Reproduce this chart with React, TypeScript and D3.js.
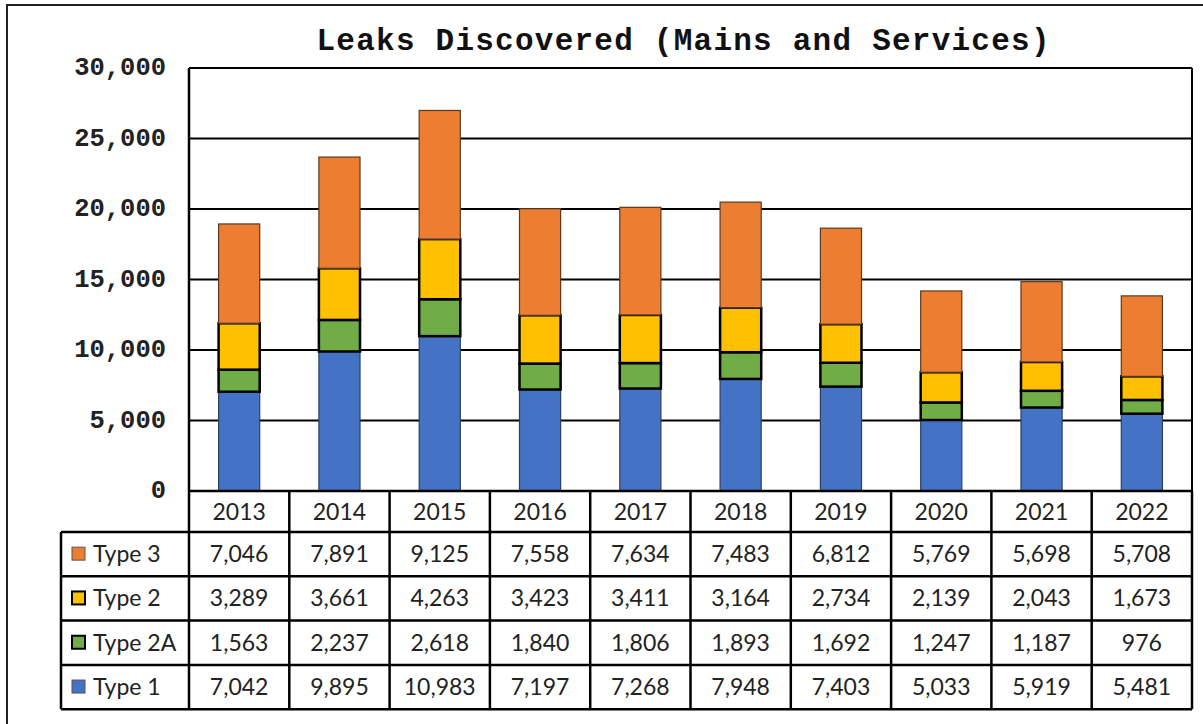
import React, { useRef, useEffect } from "react";
import * as d3 from "d3";

const years = ["2013", "2014", "2015", "2016", "2017", "2018", "2019", "2020", "2021", "2022"];
const type1 = [7042, 9895, 10983, 7197, 7268, 7948, 7403, 5033, 5919, 5481];
const type2A = [1563, 2237, 2618, 1840, 1806, 1893, 1692, 1247, 1187, 976];
const type2 = [3289, 3661, 4263, 3423, 3411, 3164, 2734, 2139, 2043, 1673];
const type3 = [7046, 7891, 9125, 7558, 7634, 7483, 6812, 5769, 5698, 5708];
const yTicks = [0, 5000, 10000, 15000, 20000, 25000, 30000];

// bottom -> top in the stack
const series = [
  { key: "Type 1", values: type1, color: "#4472C4", stroke: "#2f3f5f", sw: 1.2 },
  { key: "Type 2A", values: type2A, color: "#70AD47", stroke: "#000", sw: 2.5 },
  { key: "Type 2", values: type2, color: "#FFC000", stroke: "#000", sw: 2.5 },
  { key: "Type 3", values: type3, color: "#ED7D31", stroke: "#5a3a20", sw: 1.2 },
];

const App = () => {
  const svgRef = useRef(null);

  useEffect(() => {
    const width = 1203, height = 724;
    const plot = { left: 189, right: 1192, top: 68, bottom: 491 };
    const rowH = 44.3;
    const headerH = 41;
    const legendLeft = 61;

    const svg = d3.select(svgRef.current)
      .attr("width", width)
      .attr("height", height)
      .style("background", "#fff");
    svg.selectAll("*").remove();

    // outer frame
    svg.append("rect")
      .attr("x", 7).attr("y", 5)
      .attr("width", width + 10).attr("height", height + 10)
      .attr("fill", "none").attr("stroke", "#222").attr("stroke-width", 2);

    const x = d3.scaleBand().domain(years).range([plot.left, plot.right]).padding(0);
    const y = d3.scaleLinear().domain([0, 30000]).range([plot.bottom, plot.top]);

    // title
    svg.append("text")
      .attr("x", 683).attr("y", 50)
      .attr("text-anchor", "middle")
      .style("font-family", "'Liberation Mono', 'Courier New', monospace")
      .style("font-weight", "bold")
      .style("font-size", "31px")
      .style("fill", "#111")
      .attr("textLength", 733)
      .attr("lengthAdjust", "spacing")
      .text("Leaks Discovered (Mains and Services)");

    // gridlines
    svg.append("g").selectAll("line")
      .data(yTicks.filter(d => d > 0))
      .enter().append("line")
      .attr("x1", plot.left).attr("x2", plot.right)
      .attr("y1", d => y(d)).attr("y2", d => y(d))
      .attr("stroke", "#000").attr("stroke-width", 2);

    // y tick labels
    svg.append("g").selectAll("text")
      .data(yTicks)
      .enter().append("text")
      .attr("x", 166).attr("y", d => y(d) + 7)
      .attr("text-anchor", "end")
      .style("font-family", "'Liberation Mono', 'Courier New', monospace")
      .style("font-weight", "bold")
      .style("font-size", "25.5px")
      .style("fill", "#222")
      .text(d => d3.format(",")(d));

    // stacked bars
    const rows = years.map((yr, i) => {
      const r = { year: yr };
      series.forEach(s => { r[s.key] = s.values[i]; });
      return r;
    });
    const stacked = d3.stack().keys(series.map(s => s.key))(rows);
    const barW = x.bandwidth() * 0.41;

    stacked.forEach((layer, li) => {
      const s = series[li];
      svg.append("g").selectAll("rect")
        .data(layer)
        .enter().append("rect")
        .attr("x", d => x(d.data.year) + (x.bandwidth() - barW) / 2)
        .attr("y", d => y(d[1]))
        .attr("width", barW)
        .attr("height", d => y(d[0]) - y(d[1]))
        .attr("fill", s.color)
        .attr("stroke", s.stroke)
        .attr("stroke-width", s.sw);
    });

    // plot frame sides
    svg.append("line")
      .attr("x1", plot.left).attr("x2", plot.left)
      .attr("y1", plot.top).attr("y2", plot.bottom)
      .attr("stroke", "#000").attr("stroke-width", 2.5);
    svg.append("line")
      .attr("x1", plot.right).attr("x2", plot.right)
      .attr("y1", plot.top).attr("y2", plot.bottom)
      .attr("stroke", "#000").attr("stroke-width", 2);

    // data table
    const table = svg.append("g");
    const tableFont = "Lato, 'Open Sans', sans-serif";
    const headerTop = plot.bottom;
    const bodyTop = headerTop + headerH;
    const tableRows = [...series].reverse();
    const bodyBottom = bodyTop + rowH * tableRows.length;
    const lineStyle = (sel) => sel.attr("stroke", "#000").attr("stroke-width", 2.5);

    // header cells
    years.forEach(yr => {
      table.append("text")
        .attr("x", x(yr) + x.bandwidth() / 2)
        .attr("y", headerTop + headerH / 2 + 8)
        .attr("text-anchor", "middle")
        .style("font-family", tableFont)
        .style("font-size", "23px")
        .style("fill", "#222")
        .text(yr);
    });

    tableRows.forEach((s, ri) => {
      const rowY = bodyTop + ri * rowH;
      table.append("rect")
        .attr("x", legendLeft + 11).attr("y", rowY + rowH / 2 - 7)
        .attr("width", 13).attr("height", 13)
        .attr("fill", s.color)
        .attr("stroke", s.sw > 2 ? "#000" : "#555")
        .attr("stroke-width", s.sw > 2 ? 2 : 1);
      table.append("text")
        .attr("x", legendLeft + 32)
        .attr("y", rowY + rowH / 2 + 8)
        .style("font-family", tableFont)
        .style("font-size", "23px")
        .style("fill", "#222")
        .text(s.key);
      s.values.forEach((v, ci) => {
        table.append("text")
          .attr("x", x(years[ci]) + x.bandwidth() / 2)
          .attr("y", rowY + rowH / 2 + 8)
          .attr("text-anchor", "middle")
          .style("font-family", tableFont)
          .style("font-size", "23px")
          .style("fill", "#222")
          .text(d3.format(",")(v));
      });
    });

    // horizontal table lines
    table.append("line").call(lineStyle)
      .attr("x1", plot.left).attr("x2", plot.right)
      .attr("y1", headerTop).attr("y2", headerTop);
    for (let r = 0; r <= tableRows.length; r++) {
      const ly = bodyTop + r * rowH;
      table.append("line").call(lineStyle)
        .attr("x1", legendLeft).attr("x2", plot.right)
        .attr("y1", ly).attr("y2", ly);
    }
    // vertical table lines
    table.append("line").call(lineStyle)
      .attr("x1", legendLeft).attr("x2", legendLeft)
      .attr("y1", bodyTop).attr("y2", bodyBottom);
    years.forEach(yr => {
      table.append("line").call(lineStyle)
        .attr("x1", x(yr)).attr("x2", x(yr))
        .attr("y1", headerTop).attr("y2", bodyBottom);
    });
    table.append("line").call(lineStyle)
      .attr("x1", plot.right).attr("x2", plot.right)
      .attr("y1", headerTop).attr("y2", bodyBottom);
  }, []);

  return (
    <div style={{ position: "absolute", left: 0, top: 0 }}>
      <svg ref={svgRef} style={{ display: "block" }}></svg>
    </div>
  );
};

export default App;
